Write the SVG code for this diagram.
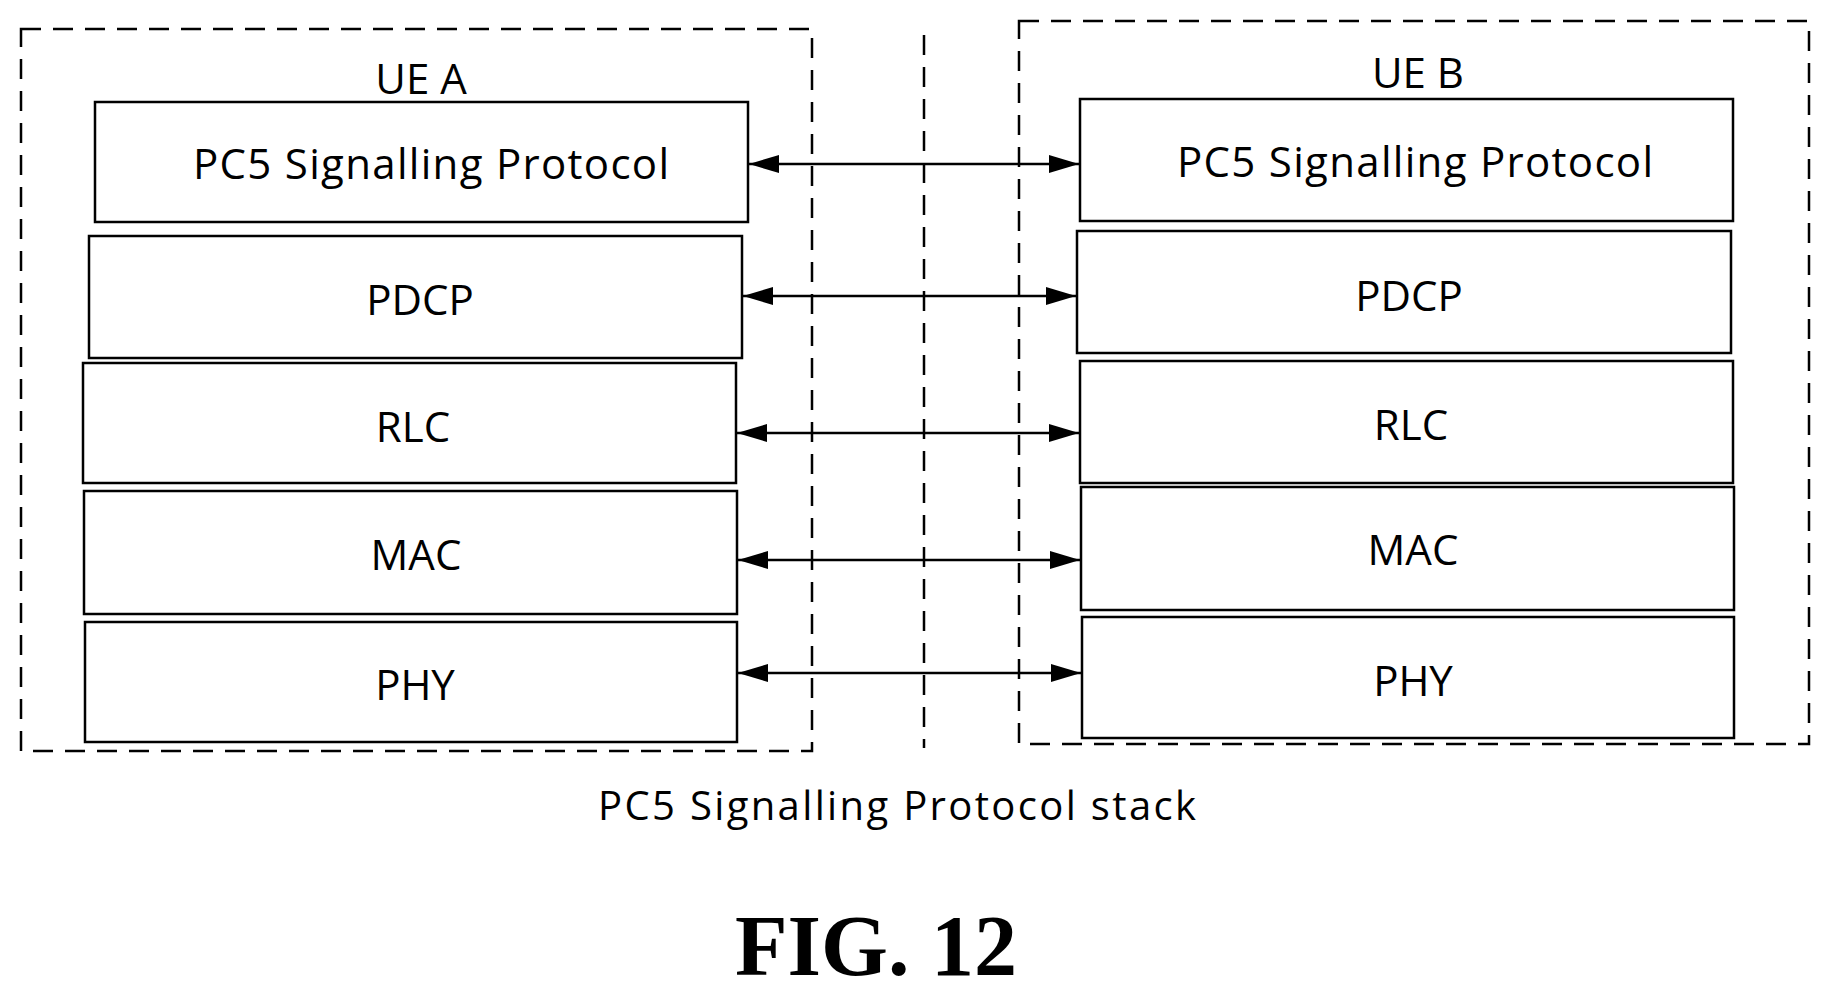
<svg xmlns="http://www.w3.org/2000/svg" width="1832" height="997" viewBox="0 0 1832 997">
<defs>
<marker id="ah" viewBox="0 0 10 10" refX="10" refY="5" markerWidth="30" markerHeight="18" orient="auto-start-reverse" markerUnits="userSpaceOnUse" preserveAspectRatio="none"><path d="M0,0 L10,5 L0,10 z" fill="#000"/></marker>
<style>
.dash{fill:none;stroke:#000;stroke-width:2.5;stroke-dasharray:20,12}
.box{fill:#fff;stroke:#000;stroke-width:2.5}
.t{font-family:"Open Sans","Noto Sans",sans-serif;font-size:42px;text-anchor:middle;fill:#000}
.arr{stroke:#000;stroke-width:2.5;marker-start:url(#ah);marker-end:url(#ah)}
</style>
</defs>
<rect width="1832" height="997" fill="#fff"/>
<g id="frames">
<rect class="dash" x="21" y="29" width="791" height="722"/>
<rect class="dash" x="1019" y="21" width="790" height="723"/>
<line class="dash" x1="924" y1="35" x2="924" y2="748"/>
</g>
<g id="ueA"><text class="t" x="421" y="94">UE A</text></g>
<g id="ueB"><text class="t" x="1418" y="88">UE B</text></g>
<g id="a1"><rect class="box" x="95" y="102" width="653" height="120"/><text class="t" x="431" y="179" textLength="476">PC5 Signalling Protocol</text></g>
<g id="a2"><rect class="box" x="89" y="236" width="653" height="122"/><text class="t" x="420" y="315">PDCP</text></g>
<g id="a3"><rect class="box" x="83" y="363" width="653" height="120"/><text class="t" x="413" y="442">RLC</text></g>
<g id="a4"><rect class="box" x="84" y="491" width="653" height="123"/><text class="t" x="416" y="570">MAC</text></g>
<g id="a5"><rect class="box" x="85" y="622" width="652" height="120"/><text class="t" x="415" y="700">PHY</text></g>
<g id="b1"><rect class="box" x="1080" y="99" width="653" height="122"/><text class="t" x="1415" y="177" textLength="476">PC5 Signalling Protocol</text></g>
<g id="b2"><rect class="box" x="1077" y="231" width="654" height="122"/><text class="t" x="1409" y="311">PDCP</text></g>
<g id="b3"><rect class="box" x="1080" y="361" width="653" height="122"/><text class="t" x="1411" y="440">RLC</text></g>
<g id="b4"><rect class="box" x="1081" y="487" width="653" height="123"/><text class="t" x="1413" y="565">MAC</text></g>
<g id="b5"><rect class="box" x="1082" y="617" width="652" height="121"/><text class="t" x="1413" y="696">PHY</text></g>
<g id="connectors">
<line class="arr" x1="749" y1="164" x2="1079" y2="164"/>
<line class="arr" x1="743" y1="296" x2="1076" y2="296"/>
<line class="arr" x1="737" y1="433" x2="1079" y2="433"/>
<line class="arr" x1="738" y1="560" x2="1080" y2="560"/>
<line class="arr" x1="738" y1="673" x2="1081" y2="673"/>
</g>
<text class="t" x="897" y="820" style="font-size:40px" textLength="598">PC5 Signalling Protocol stack</text>
<text x="876" y="975" style="font-family:'Liberation Serif',serif;font-weight:bold;font-size:86px;text-anchor:middle">FIG. 12</text>
</svg>
